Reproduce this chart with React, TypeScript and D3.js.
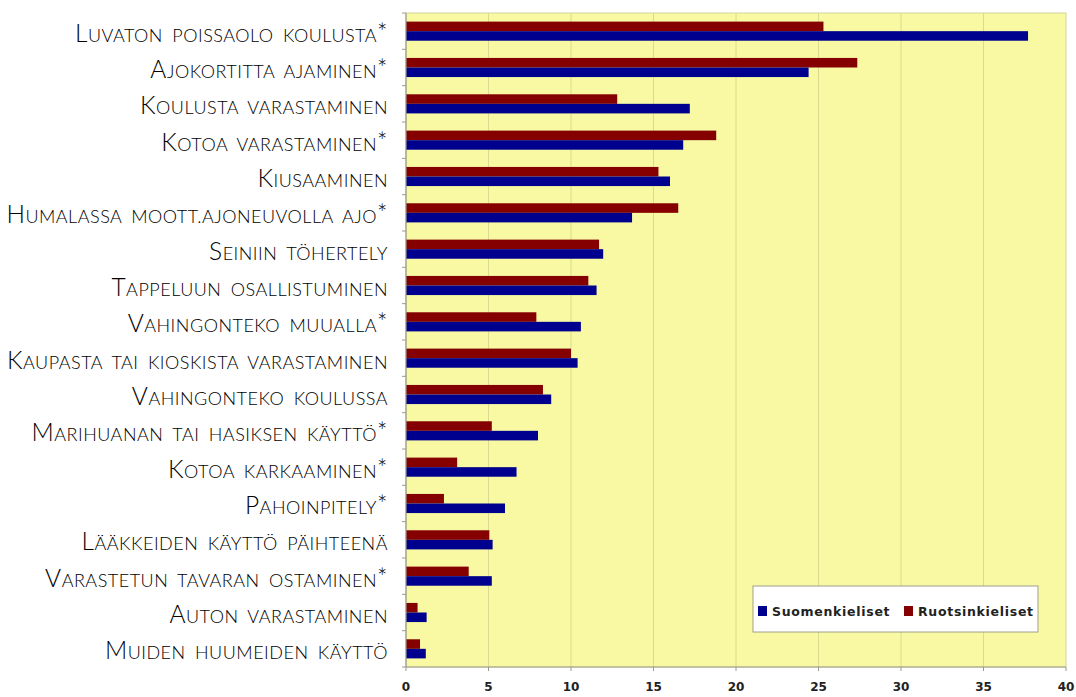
import React from "react";
import * as d3 from "d3";

const categories = [
  "Luvaton poissaolo koulusta*",
  "Ajokortitta ajaminen*",
  "Koulusta varastaminen",
  "Kotoa varastaminen*",
  "Kiusaaminen",
  "Humalassa moott.ajoneuvolla ajo*",
  "Seiniin töhertely",
  "Tappeluun osallistuminen",
  "Vahingonteko muualla*",
  "Kaupasta tai kioskista varastaminen",
  "Vahingonteko koulussa",
  "Marihuanan tai hasiksen käyttö*",
  "Kotoa karkaaminen*",
  "Pahoinpitely*",
  "Lääkkeiden käyttö päihteenä",
  "Varastetun tavaran ostaminen*",
  "Auton varastaminen",
  "Muiden huumeiden käyttö",
];

const suomenkieliset = [37.7, 24.4, 17.2, 16.8, 16.0, 13.7, 11.95, 11.55, 10.6, 10.4, 8.8, 8.0, 6.7, 6.0, 5.25, 5.2, 1.25, 1.2];
const ruotsinkieliset = [25.3, 27.35, 12.8, 18.8, 15.3, 16.5, 11.7, 11.05, 7.9, 10.0, 8.3, 5.2, 3.1, 2.3, 5.05, 3.8, 0.7, 0.85];

const seriesNames = ["Ruotsinkieliset", "Suomenkieliset"];
const seriesLegend = ["Suomenkieliset", "Ruotsinkieliset"];
const seriesColors: Record<string, string> = {
  Suomenkieliset: "#00008f",
  Ruotsinkieliset: "#850000",
};
const xTicks = [0, 5, 10, 15, 20, 25, 30, 35, 40];

const W = 1076;
const H = 697;
const M = { left: 406, right: 1066, top: 13, bottom: 667 };

function smallCapsParts(label: string) {
  const parts: { text: string; big: boolean }[] = [];
  for (const ch of label) {
    const big = (ch !== ch.toLowerCase() && ch === ch.toUpperCase()) || ch === "*";
    const t = ch.toUpperCase();
    const last = parts[parts.length - 1];
    if (last && last.big === big) last.text += t;
    else parts.push({ text: t, big });
  }
  return parts;
}

export default function App() {
  const x = d3.scaleLinear().domain([0, 40]).range([M.left, M.right]);
  const y = d3.scaleBand<string>().domain(categories).range([M.top, M.bottom]).paddingInner(0).paddingOuter(0);
  const inner = d3.scaleBand<string>().domain(seriesNames).range([0, y.bandwidth()]).paddingInner(0).paddingOuter(0.9);
  const values: Record<string, number[]> = { Suomenkieliset: suomenkieliset, Ruotsinkieliset: ruotsinkieliset };

  const legendX = 753;
  const legendY = 586;

  return (
    <svg width={W} height={H} style={{ position: "absolute", left: 0, top: 0, background: "#fff" }}>
      <rect x={M.left} y={M.top} width={M.right - M.left} height={M.bottom - M.top} fill="#f8f9a2" stroke="#d4d69a" strokeWidth={1} />
      {xTicks.slice(1, -1).map((t) => (
        <line key={"g" + t} x1={x(t)} x2={x(t)} y1={M.top} y2={M.bottom} stroke="#d9dc8e" strokeWidth={1} />
      ))}
      {categories.map((c, i) =>
        seriesNames.map((s) => (
          <rect
            key={c + s}
            x={x(0)}
            y={(y(c) as number) + (inner(s) as number)}
            width={x(values[s][i]) - x(0)}
            height={inner.bandwidth()}
            fill={seriesColors[s]}
          />
        ))
      )}
      {/* y axis */}
      <line x1={M.left} x2={M.left} y1={M.top} y2={M.bottom} stroke="#9a9a8a" strokeWidth={1.2} />
      {categories.map((c) => (
        <line key={"yt" + c} x1={M.left - 4} x2={M.left} y1={y(c) as number} y2={y(c) as number} stroke="#9a9a8a" />
      ))}
      <line x1={M.left - 4} x2={M.left} y1={M.bottom} y2={M.bottom} stroke="#9a9a8a" />
      {/* x axis */}
      <line x1={M.left} x2={M.right} y1={M.bottom} y2={M.bottom} stroke="#9a9a8a" strokeWidth={1.2} />
      {xTicks.map((t) => (
        <g key={"xt" + t}>
          <line x1={x(t)} x2={x(t)} y1={M.bottom} y2={M.bottom + 4} stroke="#9a9a8a" />
          <text x={x(t)} y={M.bottom + 24} textAnchor="middle" fontFamily="DejaVu Sans" fontWeight="bold" fontSize={12} fill="#222">
            {t}
          </text>
        </g>
      ))}
      {/* category labels */}
      {categories.map((c) => (
        <text
          key={"l" + c}
          x={388}
          y={(y(c) as number) + y.bandwidth() / 2 + 10.5}
          textAnchor="end"
          fontFamily="Lato"
          fontWeight={300}
          fill="#000"
          letterSpacing={0.5}
          wordSpacing={4}
        >
          {smallCapsParts(c).map((p, k) => (
            <tspan key={k} fontSize={p.big ? 24.5 : 18}>
              {p.text}
            </tspan>
          ))}
        </text>
      ))}
      {/* legend */}
      <rect x={legendX} y={legendY} width={285} height={46} fill="#fff" stroke="#a0a090" />
      {seriesLegend.map((s, i) => (
        <g key={"lg" + s} transform={`translate(${legendX + 5 + i * 146},${legendY + 20})`}>
          <rect x={0} y={0} width={9} height={10} fill={seriesColors[s]} />
          <text x={14} y={9.5} fontFamily="DejaVu Sans" fontWeight="bold" fontSize={12.5} letterSpacing={0.7} fill="#222">
            {s}
          </text>
        </g>
      ))}
    </svg>
  );
}
